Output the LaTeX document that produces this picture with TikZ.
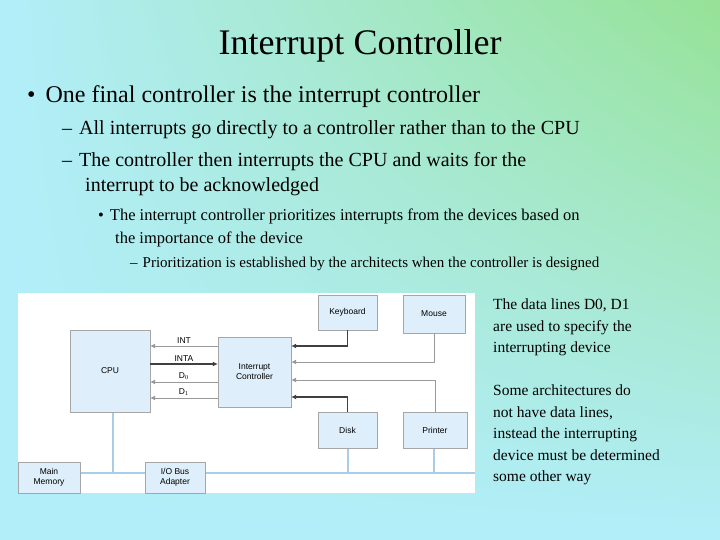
\documentclass[tikz,border=0pt]{standalone}
\usepackage{fontspec}
\setmainfont{Liberation Serif}
\newfontfamily\diagsf{Liberation Sans}
\usetikzlibrary{arrows.meta,shadings}
\definecolor{boxf}{RGB}{222,238,250}
\definecolor{bus}{RGB}{170,205,230}
\definecolor{bgA}{RGB}{178,238,250}
\definecolor{bgB}{RGB}{150,226,150}
\begin{document}
\begin{tikzpicture}[x=1pt,y=-1pt,
  blk/.style={draw=gray!70,fill=boxf,font=\diagsf\fontsize{8.5}{10}\selectfont,align=center,inner sep=0pt},
  sig/.style={draw=gray!80,line width=0.8pt,-{Latex[length=5pt,width=5pt]}},
  sigd/.style={draw=black!75,line width=1.3pt,-{Latex[length=5pt,width=5pt]}},
  bl/.style={draw=bus,line width=2.5pt},
  lab/.style={font=\diagsf\fontsize{8.5}{10}\selectfont,inner sep=0pt}]
\useasboundingbox (0,0) rectangle (720,540);
\shade[upper left=bgA,upper right=bgB,lower left=bgA,lower right=bgA] (0,0) rectangle (720,540);
\node[font=\fontsize{36}{40}\selectfont] (t) at (360,46) {Interrupt Controller};
\node[anchor=west,font=\fontsize{24}{28}\selectfont,inner sep=0pt] (b1) at (27,97) {•\hspace{10pt}One final controller is the interrupt controller};
\node[anchor=west,font=\fontsize{20}{24}\selectfont,inner sep=0pt] (b2) at (62,130) {–\hspace{7pt}All interrupts go directly to a controller rather than to the CPU};
\node[anchor=west,font=\fontsize{20}{24}\selectfont,inner sep=0pt] (b3) at (62,162) {–\hspace{7pt}The controller then interrupts the CPU and waits for the};
\node[anchor=west,font=\fontsize{20}{24}\selectfont,inner sep=0pt] (b3b) at (85,187) {interrupt to be acknowledged};
\node[anchor=west,font=\fontsize{16.5}{20}\selectfont,inner sep=0pt] (b4) at (98,216) {•\hspace{6pt}The interrupt controller prioritizes interrupts from the devices based on};
\node[anchor=west,font=\fontsize{16.5}{20}\selectfont,inner sep=0pt] (b4b) at (115,239) {the importance of the device};
\node[anchor=west,font=\fontsize{15}{18}\selectfont,inner sep=0pt] (b5) at (130,264) {–\hspace{5pt}Prioritization is established by the architects when the controller is designed};
\node[anchor=north west,font=\fontsize{15.5}{21.5}\selectfont,align=left,inner sep=0pt] (r1) at (493,299) {The data lines D0, D1\\are used to specify the\\interrupting device};
\node[anchor=north west,font=\fontsize{15.5}{21.5}\selectfont,align=left,inner sep=0pt] (r2) at (493,385) {Some architectures do\\not have data lines,\\instead the interrupting\\device must be determined\\some other way};
% panel
\fill[white] (18,293) rectangle (475,493);
\coordinate (busL) at (18,473); \coordinate (busR) at (475,473);
\coordinate (cpuB) at (113,412);
\draw[bl] (busL) -- (busR);
\draw[bl] (cpuB) -- (cpuB |- busL);
\draw[bl] (348,448) -- (348,473);
\draw[bl] (434,448) -- (434,473);
\node[blk,minimum width=80,minimum height=82] (cpu) at (110,371) {CPU};
\node[blk,minimum width=73,minimum height=70] (ic) at (254.5,372) {Interrupt\\Controller};
\node[blk,minimum width=59,minimum height=35] (kb) at (347.5,312.5) {Keyboard};
\node[blk,minimum width=62,minimum height=38] (ms) at (434,314) {Mouse};
\node[blk,minimum width=59,minimum height=36] (dk) at (347.5,430) {Disk};
\node[blk,minimum width=64,minimum height=36] (pr) at (435,430) {Printer};
\node[blk,minimum width=62,minimum height=31] (mm) at (49,477.5) {Main\\Memory};
\node[blk,minimum width=60,minimum height=31] (io) at (175,477.5) {I/O Bus\\Adapter};
% signals
\draw[sig] (ic.west |- 0,346) -- (cpu.east |- 0,346) node[lab,midway,above=2pt] {INT};
\draw[sigd] (cpu.east |- 0,364) -- (ic.west |- 0,364) node[lab,midway,above=2pt] {INTA};
\draw[sig] (ic.west |- 0,382) -- (cpu.east |- 0,382) node[lab,midway,above=2pt] {D$_0$};
\draw[sig] (ic.west |- 0,398) -- (cpu.east |- 0,398) node[lab,midway,above=2pt] {D$_1$};
\draw[sigd] (kb.south) |- (ic.east |- 0,346);
\draw[sig] (ms.south) |- (ic.east |- 0,362);
\draw[sig] (pr.north) |- (ic.east |- 0,380);
\draw[sigd] (dk.north) |- (ic.east |- 0,397);
\end{tikzpicture}
\end{document}
